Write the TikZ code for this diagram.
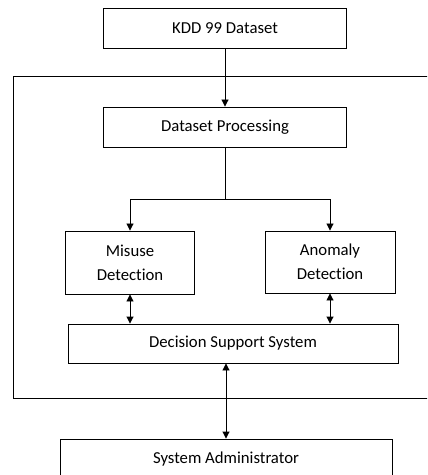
\documentclass[tikz,border=0pt]{standalone}
\usepackage{fontspec}
\setmainfont[RawFeature=-liga]{Carlito}
\usetikzlibrary{arrows.meta}
\begin{document}
\begin{tikzpicture}[x=1bp,y=-1bp,
  box/.style={draw,line width=0.9bp,inner sep=0pt,align=center,
    font=\fontsize{16.8}{24}\selectfont},
  arr/.style={line width=0.9bp,-{Triangle[length=7bp,width=7bp]}},
  darr/.style={line width=0.9bp,{Triangle[length=7bp,width=7bp]}-{Triangle[length=7bp,width=7bp]}},
  frame/.style={line width=0.9bp}]
\clip (0,0) rectangle (427,475);
\fill[white] (0,0) rectangle (427,475);
% outer container
\draw[frame] (430,76) -- (13,76) -- (13,398) -- (430,398);
% nodes
\node[box,minimum width=243bp,minimum height=40bp] (kdd) at (225,28) {KDD 99 Dataset};
\node[box,minimum width=243bp,minimum height=40bp] (dp) at (225,127) {Dataset Processing};
\node[box,minimum width=129bp,minimum height=63bp] (mis) at (130,262.5) {Misuse\\Detection};
\node[box,minimum width=130bp,minimum height=62bp] (ano) at (330,262) {Anomaly\\Detection};
\node[box,minimum width=330bp,minimum height=39bp] (dss) at (233,343.5) {Decision Support System};
\node[box,minimum width=332bp,minimum height=40bp] (sa) at (226,459) {System Administrator};
% connectors
\draw[arr] (kdd) -- (dp);
\draw[line width=0.9bp] (dp.south) -- ++(0,52) coordinate (j);
\draw[arr] (j) -| (mis.north);
\draw[arr] (j) -| (ano.north);
\draw[darr] (mis.south) -- (mis.south |- dss.north);
\draw[darr] (ano.south) -- (ano.south |- dss.north);
\draw[darr] (dss.south -| sa.north) -- (sa.north);
\end{tikzpicture}
\end{document}
